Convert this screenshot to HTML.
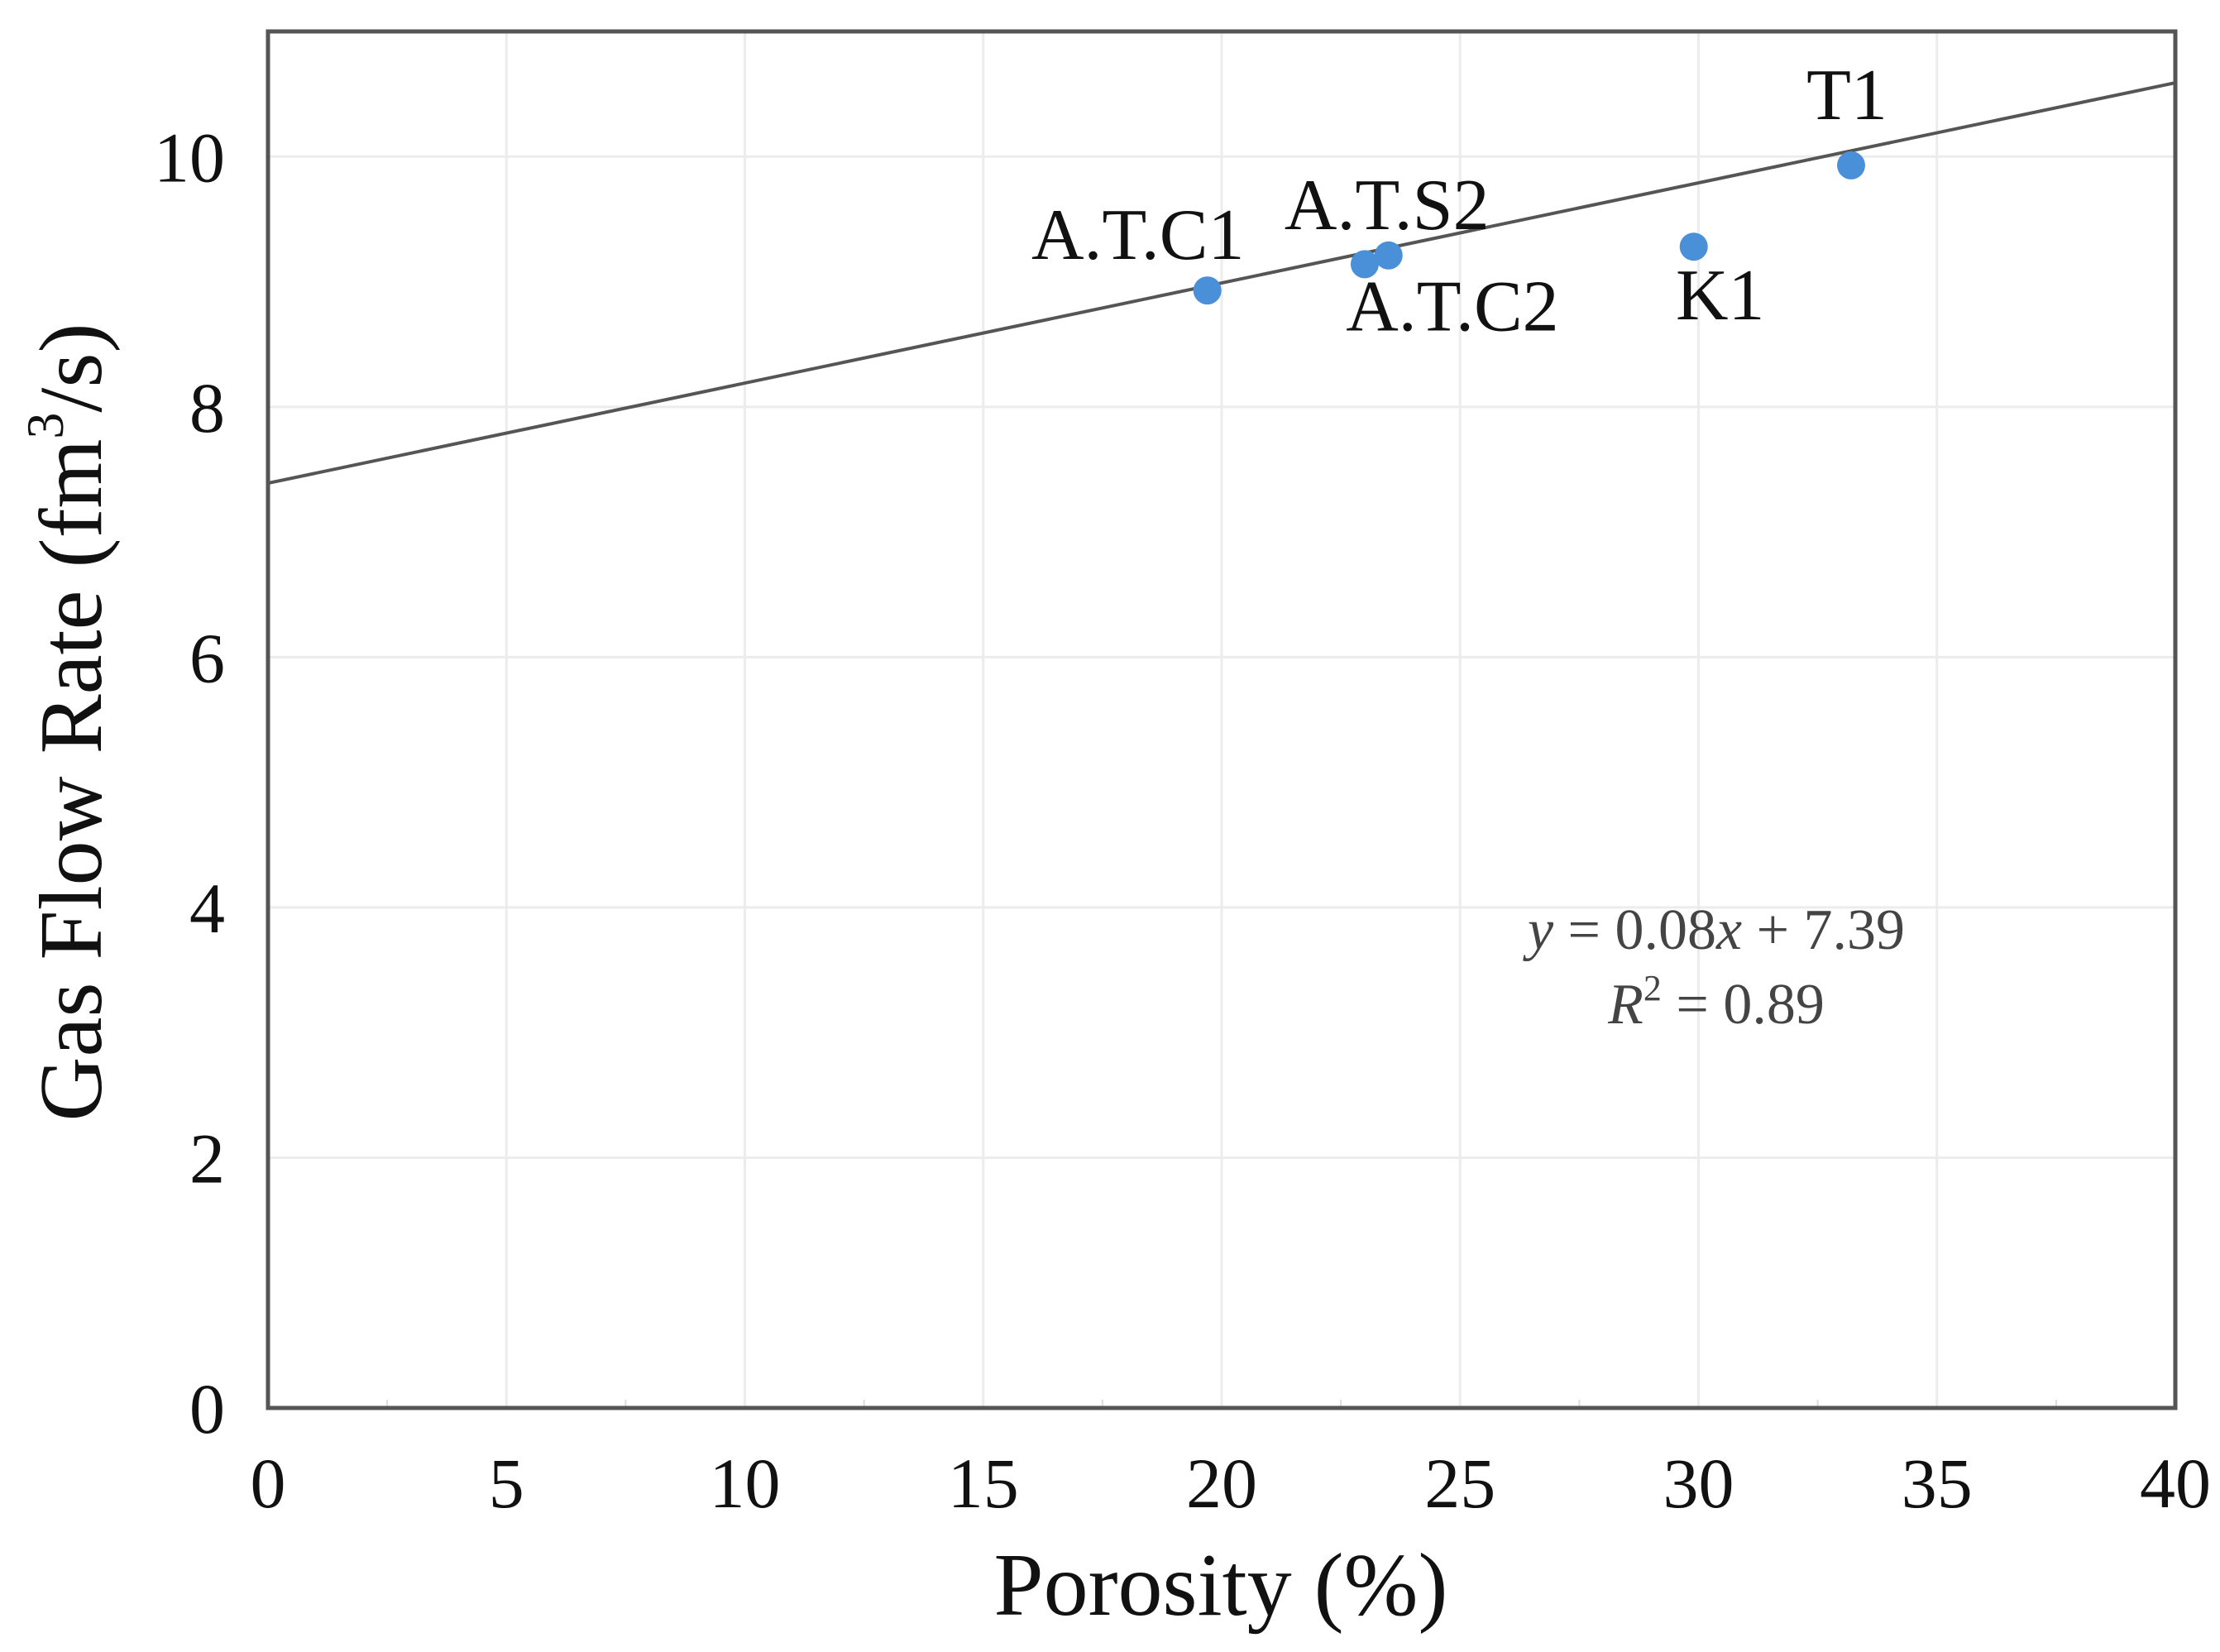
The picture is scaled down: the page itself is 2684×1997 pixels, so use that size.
<!DOCTYPE html>
<html><head><meta charset="utf-8">
<style>
html,body{margin:0;padding:0;background:#fff;}
svg{display:block;}
text{font-family:"Liberation Serif","DejaVu Serif",serif;}
</style></head>
<body>
<svg id="chart" width="2684" height="1997" viewBox="0 0 2684 1997" xmlns="http://www.w3.org/2000/svg">
<rect width="2684" height="1997" fill="#fff"/>
<g id="grid"></g>
<g id="fit"></g>
<g id="pts"></g>
<g id="axes"></g>
<text x="1476" y="1952" font-size="108" text-anchor="middle" fill="#111">Porosity (%)</text>
<text transform="translate(122,873) rotate(-90)" font-size="108" text-anchor="middle" fill="#111">Gas Flow Rate (fm<tspan font-size="64" dy="-46">3</tspan><tspan dy="46">/s)</tspan></text>
<text x="2075" y="1147" font-size="70" text-anchor="middle" fill="#444"><tspan font-style="italic">y</tspan> = 0.08<tspan font-style="italic">x</tspan> + 7.39</text>
<text x="2075" y="1237" font-size="70" text-anchor="middle" fill="#444"><tspan font-style="italic">R</tspan><tspan font-size="44" dy="-28">2</tspan><tspan dy="28"> = 0.89</tspan></text>
</svg>
<script>
const names = ["A.T.C1","A.T.C2","A.T.S2","K1","T1"];
const porosity = [19.7, 23.0, 23.5, 29.9, 33.2];
const flowRate = [8.93, 9.14, 9.21, 9.28, 9.93];
const xTicks = [0,5,10,15,20,25,30,35,40];
const yTicks = [0,2,4,6,8,10];
const fitSlope = 0.08;
const fitIntercept = 7.39;
// label offsets (pixels) relative to point
const labelDx = [-84, 106, -2, 32, -5];
const labelDy = [-38, 80, -32, 88, -56];

const L=324,R=2630,T=38,B=1702,XMAX=40,YMAX=11;
const sx=v=>L+(R-L)*v/XMAX;
const sy=v=>B-(B-T)*v/YMAX;
const NS="http://www.w3.org/2000/svg";
function mk(tag,attrs,parent){const e=document.createElementNS(NS,tag);for(const k in attrs)e.setAttribute(k,attrs[k]);parent.appendChild(e);return e;}
const grid=document.getElementById('grid'),axes=document.getElementById('axes'),pts=document.getElementById('pts'),fit=document.getElementById('fit');
xTicks.forEach(t=>{
  if(t>0&&t<XMAX){const g=mk('line',{x1:sx(t),x2:sx(t),y1:T,y2:B,stroke:'#ececec','stroke-width':3},grid);
  
  }
  const m=mk('line',{x1:sx(t+2.5),x2:sx(t+2.5),y1:B,y2:B-10,stroke:'#ddd','stroke-width':2},grid);
  
  
  const tx=mk('text',{x:sx(t),y:1822,'font-size':86,'text-anchor':'middle',fill:'#111'},axes);
  
  
  tx.textContent=t;
});
yTicks.forEach(t=>{
  if(t>0){const g=mk('line',{x1:L,x2:R,y1:sy(t),y2:sy(t),stroke:'#ececec','stroke-width':3},grid);
  
  }
  const ty=mk('text',{x:272,y:sy(t)+30,'font-size':86,'text-anchor':'end',fill:'#111'},axes);
  
  
  ty.textContent=t;
});
const ln=mk('line',{x1:sx(0),y1:sy(fitIntercept),x2:sx(XMAX),y2:sy(fitIntercept+fitSlope*XMAX),stroke:'#555','stroke-width':4},fit);


const fr=mk('rect',{x:L,y:T,width:R-L,height:B-T,fill:'none',stroke:'#555','stroke-width':5},axes);


names.forEach((n,i)=>{
  const c=mk('circle',{cx:sx(porosity[i]),cy:sy(flowRate[i]),r:17,fill:'#4a90d9'},pts);
  
  
  const t=mk('text',{x:sx(porosity[i])+labelDx[i],y:sy(flowRate[i])+labelDy[i],'font-size':88,'text-anchor':'middle',fill:'#111'},pts);
  
  
  t.textContent=n;
});
</script>
</body></html>
